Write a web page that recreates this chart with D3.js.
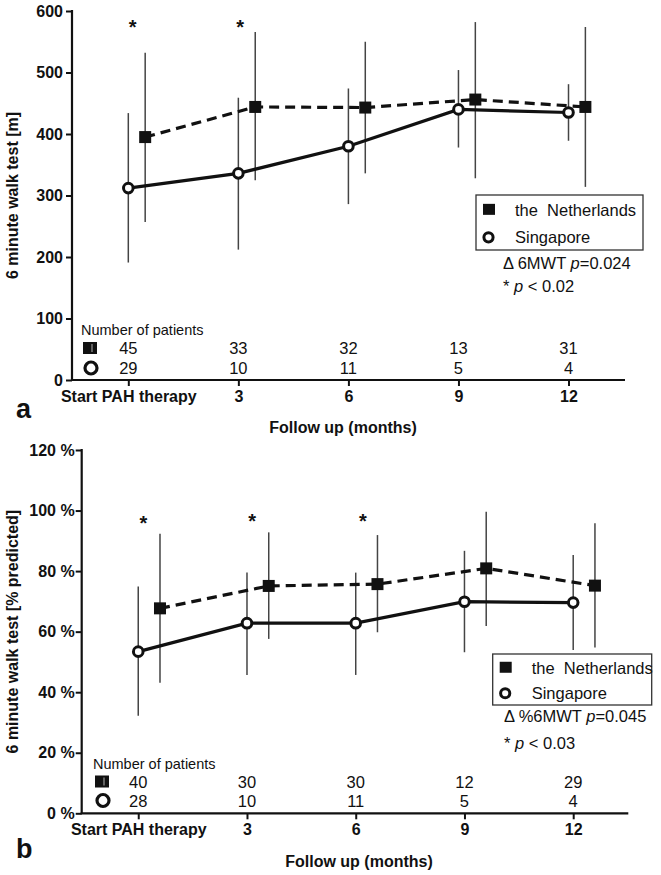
<!DOCTYPE html>
<html>
<head>
<meta charset="utf-8">
<script src="https://cdn.jsdelivr.net/npm/d3@7"></script>
<style>
  html, body { margin: 0; padding: 0; background: #fff; }
  svg { display: block; }
  text { font-family: "Liberation Sans", Arial, sans-serif; fill: #111; }
</style>
</head>
<body>
<svg id="chart" width="661" height="875"></svg>
<script>
// ---------- DATA ----------
const months = [0, 3, 6, 9, 12];
const tickLabels = ["Start PAH therapy", "3", "6", "9", "12"];
const seriesNames = ["the  Netherlands", "Singapore"];

// Panel a: 6MWT in metres
const sgA = [312, 336, 380, 440, 435];
const sgA_lo = [191, 212, 286, 378, 389];
const sgA_hi = [434, 459, 474, 504, 481];
const nlA = [395, 444, 443, 456, 444];
const nlA_lo = [257, 325, 336, 328, 314];
const nlA_hi = [532, 566, 550, 582, 574];
const patientsA_nl = [45, 33, 32, 13, 31];
const patientsA_sg = [29, 10, 11, 5, 4];
const starsA_x = [0.12, 3.05];
const starsA_y = [581, 581];
const yTicksA = [0, 100, 200, 300, 400, 500, 600];

// Panel b: 6MWT in % predicted
const sgB = [53.4, 62.8, 62.8, 69.9, 69.6];
const sgB_lo = [32.2, 45.7, 45.7, 53.2, 53.9];
const sgB_hi = [74.9, 79.5, 79.5, 86.7, 85.3];
const nlB = [67.7, 75.1, 75.7, 80.9, 75.2];
const nlB_lo = [43.1, 57.6, 59.8, 61.9, 54.8];
const nlB_hi = [92.3, 92.8, 91.9, 99.6, 95.8];
const patientsB_nl = [40, 30, 30, 12, 29];
const patientsB_sg = [28, 10, 11, 5, 4];
const starsB_x = [0.14, 3.14, 6.2];
const starsB_y = [97.1, 97.8, 98.0];
const yTicksB = [0, 20, 40, 60, 80, 100, 120];

// ---------- DRAWING ----------
const svg = d3.select("#chart");

function drawPanel(cfg) {
  const g = svg.append("g");
  const x = d3.scaleLinear().domain(cfg.xDomain).range(cfg.xRange);
  const y = d3.scaleLinear().domain(cfg.yDomain).range(cfg.yRange);
  const x0 = cfg.xRange[0], yBase = cfg.yRange[0];

  // Y axis
  const yAxis = d3.axisLeft(y).tickValues(cfg.yTicks).tickSize(6).tickPadding(cfg.yPad).tickFormat(cfg.yFmt);
  const ya = g.append("g").attr("transform", `translate(${x0},0)`).call(yAxis);
  ya.select(".domain").attr("stroke", "#111").attr("stroke-width", 2.2).attr("d", `M-0,${cfg.yRange[1]-1}V${yBase}`);
  ya.selectAll(".tick line").attr("stroke", "#111").attr("stroke-width", 2);
  ya.selectAll(".tick text").attr("font-size", 16).attr("font-weight", "bold").attr("fill", "#111")
    .attr("font-family", "Liberation Sans, Arial, sans-serif");

  // X axis
  const xAxis = d3.axisBottom(x).tickValues(months).tickSize(6).tickPadding(6)
    .tickFormat((d, i) => tickLabels[i]);
  const xa = g.append("g").attr("transform", `translate(0,${yBase})`).call(xAxis);
  xa.select(".domain").attr("stroke", "#111").attr("stroke-width", 2.2)
    .attr("d", `M${x0-1},0H${cfg.xRange[1]}`);
  xa.selectAll(".tick line").attr("stroke", "#111").attr("stroke-width", 2);
  xa.selectAll(".tick text").attr("font-size", 16).attr("font-weight", "bold").attr("fill", "#111")
    .attr("font-family", "Liberation Sans, Arial, sans-serif").attr("dy", "0.6em");

  // Axis titles
  g.append("text")
    .attr("transform", `translate(${cfg.yTitleX},${(cfg.yRange[0] + cfg.yRange[1]) / 2}) rotate(-90)`)
    .attr("text-anchor", "middle").attr("font-size", 16).attr("font-weight", "bold")
    .text(cfg.yTitle);
  g.append("text").attr("x", cfg.xTitleX).attr("y", cfg.xTitleY)
    .attr("text-anchor", "middle").attr("font-size", 16).attr("font-weight", "bold")
    .text("Follow up (months)");

  // Panel letter
  g.append("text").attr("x", cfg.letterX).attr("y", cfg.letterY)
    .attr("font-size", 27).attr("font-weight", "bold").text(cfg.letter);

  const nlX = months.map(m => m + cfg.nlOffset);

  // Error bars
  const ebar = (xs, lo, hi) => g.append("g").selectAll("line").data(xs).join("line")
    .attr("x1", d => x(d)).attr("x2", d => x(d))
    .attr("y1", (d, i) => y(lo[i])).attr("y2", (d, i) => y(hi[i]))
    .attr("stroke", "#444").attr("stroke-width", 1.5);
  ebar(months, cfg.sg_lo, cfg.sg_hi);
  ebar(nlX, cfg.nl_lo, cfg.nl_hi);

  // Lines
  const line = d3.line().x(d => x(d[0])).y(d => y(d[1]));
  g.append("path").datum(nlX.map((m, i) => [m, cfg.nl[i]])).attr("d", line)
    .attr("fill", "none").attr("stroke", "#111").attr("stroke-width", 3.2)
    .attr("stroke-dasharray", "10,6");
  g.append("path").datum(months.map((m, i) => [m, cfg.sg[i]])).attr("d", line)
    .attr("fill", "none").attr("stroke", "#111").attr("stroke-width", 3.2);

  // Markers
  g.append("g").selectAll("rect").data(nlX).join("rect")
    .attr("x", d => x(d) - 6).attr("y", (d, i) => y(cfg.nl[i]) - 6)
    .attr("width", 12).attr("height", 12).attr("fill", "#111");
  g.append("g").selectAll("circle").data(months).join("circle")
    .attr("cx", d => x(d)).attr("cy", (d, i) => y(cfg.sg[i])).attr("r", 4.8)
    .attr("fill", "#fff").attr("stroke", "#111").attr("stroke-width", 3);

  // Significance stars
  g.append("g").selectAll("text").data(cfg.starsX).join("text")
    .attr("x", d => x(d)).attr("y", (d, i) => y(cfg.starsY[i]) + 11)
    .attr("text-anchor", "middle").attr("font-size", 20).attr("font-weight", "bold").text("*");

  // Number of patients
  const np = cfg.np;
  g.append("text").attr("x", np.x).attr("y", np.titleY).attr("font-size", 14.5).text("Number of patients");
  g.append("rect").attr("x", np.iconX).attr("y", np.row1Y - 12).attr("width", 14).attr("height", 12).attr("fill", "#111");
  g.append("line").attr("x1", np.iconX + 9).attr("x2", np.iconX + 9).attr("y1", np.row1Y - 10).attr("y2", np.row1Y - 2)
    .attr("stroke", "#999").attr("stroke-width", 1.2);
  g.append("circle").attr("cx", np.iconX + 8).attr("cy", np.row2Y - 6).attr("r", 6)
    .attr("fill", "#fff").attr("stroke", "#111").attr("stroke-width", 3.2);
  g.append("g").selectAll("text").data(months).join("text")
    .attr("x", d => x(d)).attr("y", np.row1Y).attr("text-anchor", "middle").attr("font-size", 16.5)
    .text((d, i) => cfg.nNL[i]);
  g.append("g").selectAll("text").data(months).join("text")
    .attr("x", d => x(d)).attr("y", np.row2Y).attr("text-anchor", "middle").attr("font-size", 16.5)
    .text((d, i) => cfg.nSG[i]);

  // Legend
  const lg = cfg.legend;
  g.append("rect").attr("x", lg.x).attr("y", lg.y).attr("width", lg.w).attr("height", lg.h)
    .attr("fill", "#fff").attr("stroke", "#333").attr("stroke-width", 1.3);
  g.append("rect").attr("x", lg.x + 7).attr("y", lg.y + lg.h * 0.27 - 6).attr("width", 12).attr("height", 11).attr("fill", "#111");
  g.append("circle").attr("cx", lg.x + 12.5).attr("cy", lg.y + lg.h * 0.77).attr("r", 4.6)
    .attr("fill", "#fff").attr("stroke", "#111").attr("stroke-width", 3);
  g.append("text").attr("x", lg.x + 39).attr("y", lg.y + lg.h * 0.27 + 6).attr("font-size", 16.5)
    .attr("xml:space", "preserve").style("white-space", "pre").text(seriesNames[0]);
  g.append("text").attr("x", lg.x + 39).attr("y", lg.y + lg.h * 0.77 + 6).attr("font-size", 16.5)
    .text(seriesNames[1]);

  // Statistics annotation
  const t1 = g.append("text").attr("x", cfg.statX).attr("y", cfg.stat1Y).attr("font-size", 16.5);
  t1.append("tspan").text("\u0394 " + cfg.statLabel + " ");
  t1.append("tspan").attr("font-style", "italic").text("p");
  t1.append("tspan").text("=" + cfg.statP);
  const t2 = g.append("text").attr("x", cfg.statX).attr("y", cfg.stat2Y).attr("font-size", 16.5)
    .attr("xml:space", "preserve").style("white-space", "pre");
  t2.append("tspan").text("* ");
  t2.append("tspan").attr("font-style", "italic").text("p");
  t2.append("tspan").text(" < " + cfg.starP);
}

drawPanel({
  xDomain: [-1.535, 13.54], xRange: [72, 625],
  yDomain: [0, 600], yRange: [380, 11],
  yTicks: yTicksA, yFmt: d => d, yPad: 3,
  yTitle: "6 minute walk test [m]", yTitleX: 18,
  xTitleX: 343, xTitleY: 433,
  letter: "a", letterX: 16, letterY: 418,
  nlOffset: 0.46,
  sg: sgA, sg_lo: sgA_lo, sg_hi: sgA_hi,
  nl: nlA, nl_lo: nlA_lo, nl_hi: nlA_hi,
  starsX: starsA_x, starsY: starsA_y,
  nNL: patientsA_nl, nSG: patientsA_sg,
  np: { x: 81, titleY: 334.5, iconX: 83, row1Y: 354, row2Y: 374 },
  legend: { x: 476, y: 195, w: 167, h: 55 },
  statX: 503, stat1Y: 269, stat2Y: 292,
  statLabel: "6MWT", statP: "0.024", starP: "0.02"
});

drawPanel({
  xDomain: [-1.56, 13.52], xRange: [81.7, 628.3],
  yDomain: [0, 120], yRange: [813.3, 450],
  yTicks: yTicksB, yFmt: d => d + " %", yPad: 1,
  yTitle: "6 minute walk test [% predicted]", yTitleX: 18,
  xTitleX: 359, xTitleY: 867,
  letter: "b", letterX: 16, letterY: 858,
  nlOffset: 0.6,
  sg: sgB, sg_lo: sgB_lo, sg_hi: sgB_hi,
  nl: nlB, nl_lo: nlB_lo, nl_hi: nlB_hi,
  starsX: starsB_x, starsY: starsB_y,
  nNL: patientsB_nl, nSG: patientsB_sg,
  np: { x: 93, titleY: 768.5, iconX: 95, row1Y: 787.5, row2Y: 806.5 },
  legend: { x: 492.7, y: 654, w: 159, h: 51 },
  statX: 504, stat1Y: 722, stat2Y: 749,
  statLabel: "%6MWT", statP: "0.045", starP: "0.03"
});
</script>
</body>
</html>
